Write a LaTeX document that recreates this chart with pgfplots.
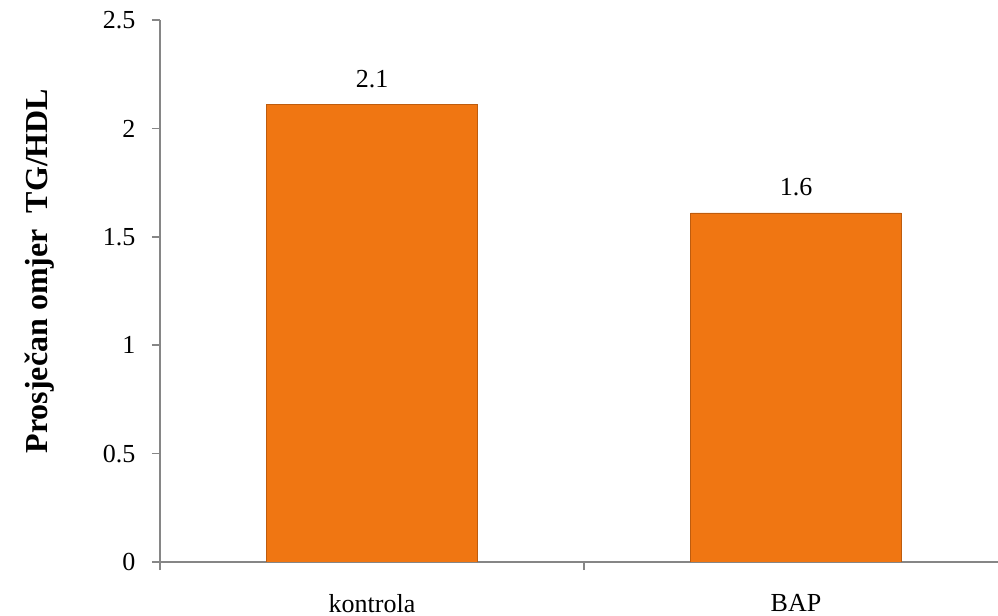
\documentclass[border=0pt]{standalone}
\usepackage{pgfplots}
\pgfplotsset{compat=1.18}
\usepackage{fontspec}
\setmainfont{Liberation Serif}
\definecolor{barorange}{RGB}{240,118,18}
\definecolor{baredge}{RGB}{190,92,14}
\definecolor{axgray}{RGB}{134,134,134}
\begin{document}
\begin{tikzpicture}
\path[use as bounding box] (-120pt,-40.5pt) rectangle (628.5pt,421.5pt);
\begin{axis}[
  at={(0pt,0pt)}, anchor=south west,
  scale only axis,
  width=636pt, height=406.5pt,
  xmin=-0.5, xmax=1.5,
  ymin=0, ymax=2.5,
  axis lines=left,
  axis line style={-, draw=axgray, line width=1.1pt},
  ybar, bar width=158pt, bar shift=0pt,
  xtick={-0.5,0.5,1.5},
  x tick label as interval,
  xticklabels={kontrola,BAP},
  ytick={0,0.5,1,1.5,2,2.5},
  tick style={draw=axgray, line width=1.1pt},
  major tick length=6pt,
  tick align=outside,
  /pgf/number format/assume math mode=true,
  tick label style={font=\fontsize{19.5}{23}\selectfont, text=black},
  yticklabel style={xshift=-9pt},
  xticklabel style={yshift=-18pt, inner sep=0pt},
  nodes near coords,
  every node near coord/.append style={font=\fontsize{19.5}{23}\selectfont, text=black, yshift=9pt},
  /pgf/number format/.cd, fixed, precision=1,
]
\addplot[fill=barorange, draw=baredge, line width=0.6pt] coordinates {(0,2.11) (1,1.61)};
\end{axis}
\node[rotate=90, anchor=center, font=\fontsize{24}{28}\selectfont\bfseries] at (-90pt,218.25pt) {Prosječan omjer\ \ TG/HDL};
\end{tikzpicture}
\end{document}
